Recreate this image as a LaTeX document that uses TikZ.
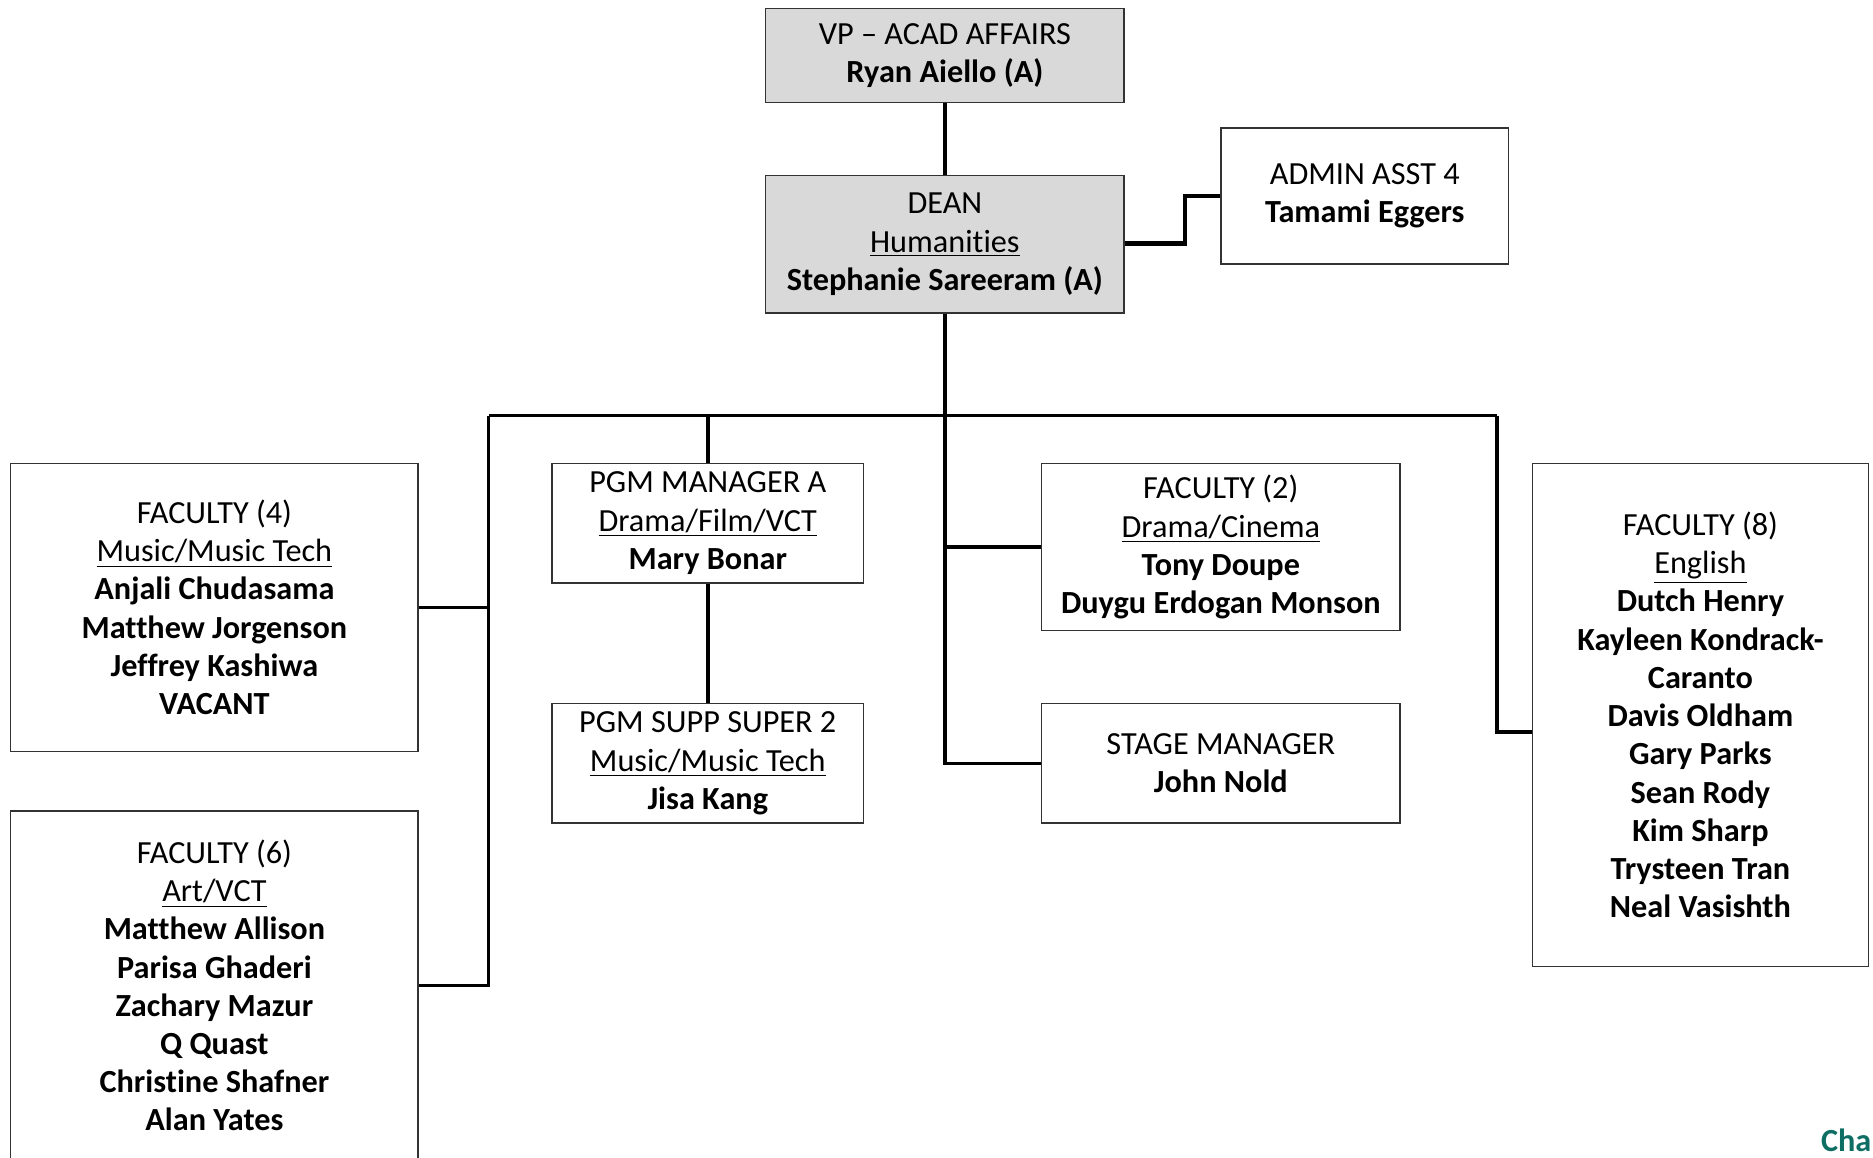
\documentclass[tikz,border=0pt]{standalone}
\usepackage{fontspec}
\setmainfont[Ligatures=NoCommon]{Carlito}
\definecolor{boxgray}{HTML}{D9D9D9}
\definecolor{teal1}{HTML}{0E6E63}
\begin{document}
\begin{tikzpicture}[x=0.5pt,y=-0.5pt,
  box/.style={draw=black!80,line width=0.6pt,rectangle,inner sep=0pt,align=center,
    font=\fontsize{13.5}{16}\selectfont},
  graybox/.style={box,fill=boxgray},
  conn/.style={line width=1.5pt,draw=black},
  thickconn/.style={line width=1.9pt,draw=black}]
\path[use as bounding box] (0,0) rectangle (1568,969);
\clip (0,0) rectangle (1568,969);
\fill[white] (0,0) rectangle (1568,969);

\node[graybox,minimum width=150pt,minimum height=39.5pt] (vp) at (791,46.5)
  {\raisebox{-1pt}{}VP -- ACAD AFFAIRS\\\textbf{Ryan Aiello (A)}};
\node[graybox,minimum width=150pt,minimum height=57.5pt] (dean) at (791,204.5)
  {DEAN\\\underline{Humanities}\\\textbf{Stephanie Sareeram (A)}};
\node[box,minimum width=120.5pt,minimum height=57pt] (admin) at (1142.5,164)
  {ADMIN ASST 4\\\textbf{Tamami Eggers}};
\node[box,minimum width=170.5pt,minimum height=120.5pt] (f4) at (179.5,508.5)
  {FACULTY (4)\\\underline{Music/Music Tech}\\\textbf{Anjali Chudasama}\\\textbf{Matthew Jorgenson}\\\textbf{Jeffrey Kashiwa}\\\textbf{VACANT}};
\node[box,minimum width=170.5pt,minimum height=146pt] (f6) at (179.5,825)
  {FACULTY (6)\\\underline{Art/VCT}\\\textbf{Matthew Allison}\\\textbf{Parisa Ghaderi}\\\textbf{Zachary Mazur}\\\textbf{Q Quast}\\\textbf{Christine Shafner}\\\textbf{Alan Yates}};
\node[box,minimum width=130.5pt,minimum height=50pt] (pgm) at (592.5,438)
  {PGM MANAGER A\\\underline{Drama/Film/VCT}\\\textbf{Mary Bonar}};
\node[box,minimum width=130.5pt,minimum height=50pt] (supp) at (592.5,639)
  {PGM SUPP SUPER 2\\\underline{Music/Music Tech}\\\textbf{Jisa Kang}};
\node[box,minimum width=150pt,minimum height=70pt] (f2) at (1022,458)
  {FACULTY (2)\\\underline{Drama/Cinema}\\\textbf{Tony Doupe}\\\textbf{Duygu Erdogan Monson}};
\node[box,minimum width=150pt,minimum height=50pt] (stage) at (1022,639)
  {STAGE MANAGER\\\textbf{John Nold}};
\node[box,minimum width=140.5pt,minimum height=210.5pt] (f8) at (1423.5,598.5)
  {FACULTY (8)\\\underline{English}\\\textbf{Dutch Henry}\\\textbf{Kayleen Kondrack-}\\\textbf{Caranto}\\\textbf{Davis Oldham}\\\textbf{Gary Parks}\\\textbf{Sean Rody}\\\textbf{Kim Sharp}\\\textbf{Trysteen Tran}\\\textbf{Neal Vasishth}};

\coordinate (ja) at (992,0);
\coordinate (busL) at (409,348);
\coordinate (busR) at (1253,348);
\coordinate (f8j) at (1253,613);

\draw[conn] (vp.south) -- (dean.north);
\draw[thickconn] (dean.east |- 0,204) -- (ja |- 0,204) |- (admin.west);
\draw[conn] (dean.south) -- (dean.south |- busL);
\draw[conn] (busL) -- (busR);
\draw[conn] (busL) |- (f4.east);
\draw[conn] (busL) |- (f6.east);
\draw[conn] (pgm.north |- busL) -- (pgm.north);
\draw[conn] (pgm.south) -- (supp.north);
\draw[conn] (dean.south |- busL) |- (stage.west);
\draw[conn] (dean.south |- f2.west) -- (f2.west);
\draw[conn] (busR) -- (f8j) -- (f8.west |- f8j);

\node[anchor=base east,inner sep=0pt,text=teal1,font=\fontsize{13.5}{16}\selectfont\bfseries] (cha) at (1567,964) {Cha};
\end{tikzpicture}
\end{document}
